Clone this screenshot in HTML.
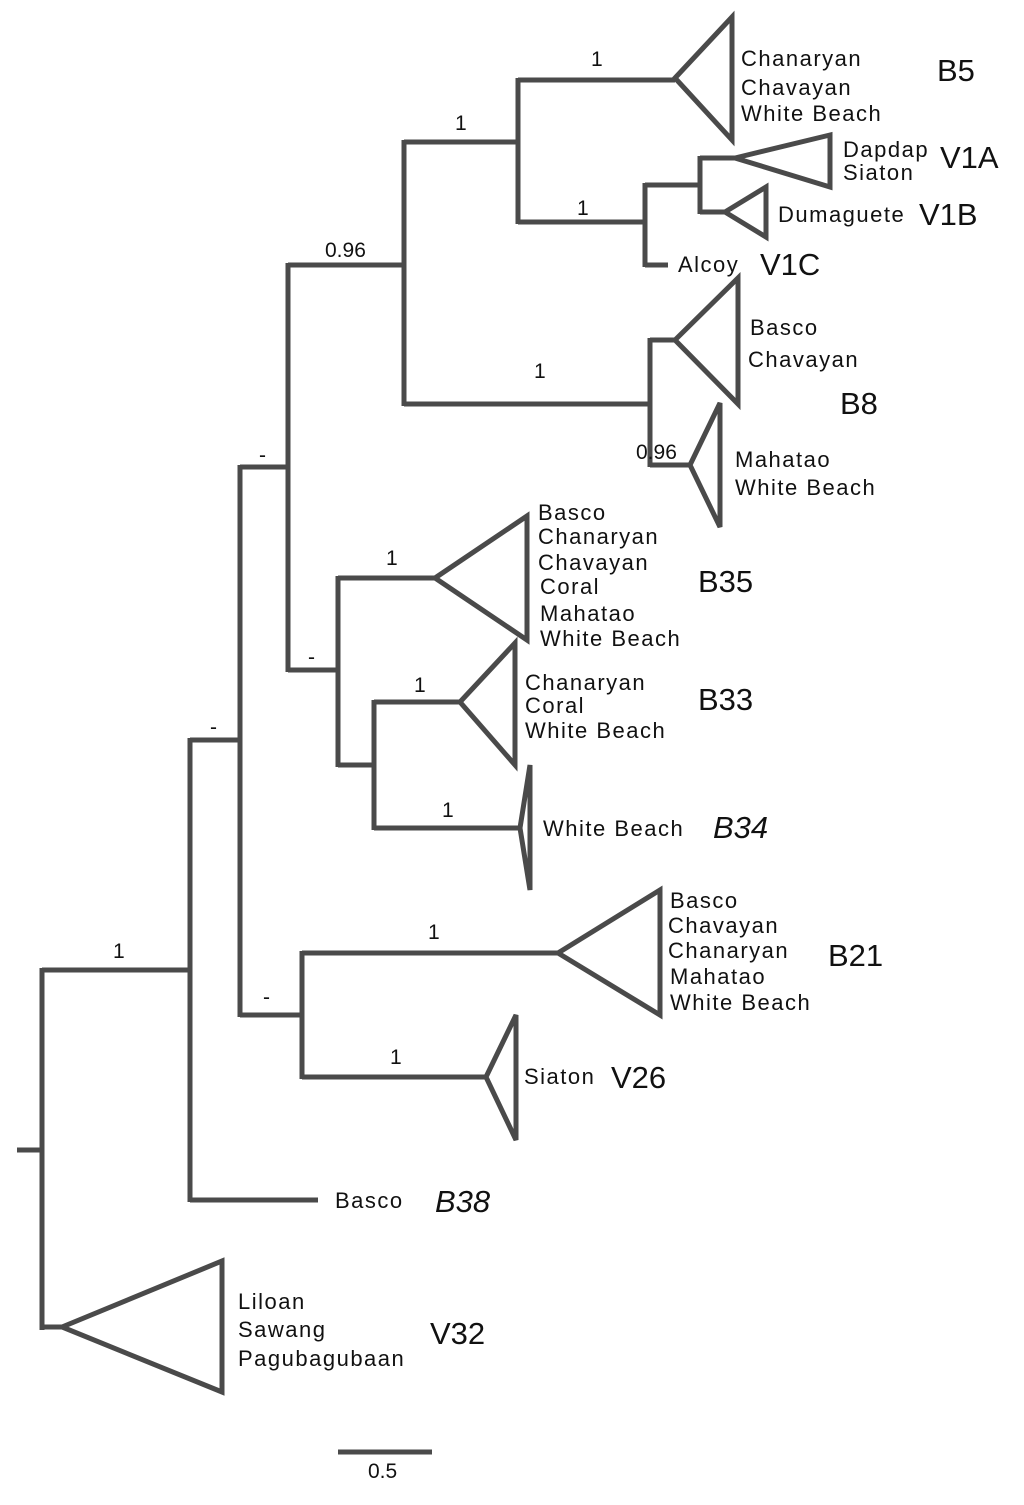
<!DOCTYPE html>
<html><head><style>body{margin:0;background:#fff}svg{display:block}text{font-family:"Liberation Sans",sans-serif;fill:#111}</style></head><body>
<svg width="1024" height="1505" viewBox="0 0 1024 1505">
<g stroke="#4a4a4a" stroke-width="5" fill="none" stroke-linejoin="miter">
<path d="M17 1150H42M42 968V1330M42 970H190M42 1327H62"/>
<polygon points="62,1327 222,1261 222,1392"/>
<path d="M190 738V1202M190 1200H318M190 740H240M240 465V1017M240 467H288M288 263V672M288 265H404M404 140V406M404 142H518M518 78V224M518 80H675"/>
<polygon points="675,78 732,17 732,140"/>
<path d="M518 222H645M645 183V267M645 185H700M700 156V214M700 158H735M700 212H725M645 265H668"/>
<polygon points="735,158 830,135 830,187"/>
<polygon points="725,212 766,187 766,237"/>
<path d="M404 404H650M650 338V467M650 340H675M650 465H690"/>
<polygon points="675,340 738,278 738,404"/>
<polygon points="690,465 720,403 720,527"/>
<path d="M288 670H338M338 576V767M338 578H435M338 765H374M374 700V830M374 702H460M374 828H520"/>
<polygon points="435,578 527,516 527,640"/>
<polygon points="460,702 515,643 515,765"/>
<polygon points="520,828 530,765 530,890"/>
<path d="M240 1015H302M302 951V1079M302 953H558M302 1077H486"/>
<polygon points="558,953 660,890 660,1015"/>
<polygon points="486,1077 516,1015 516,1140"/>
<path d="M338 1452H432"/>
</g>
<g font-size="21">
<text x="113" y="958">1</text>
<text x="210" y="734">-</text>
<text x="259" y="462">-</text>
<text x="325" y="257">0.96</text>
<text x="455" y="130">1</text>
<text x="591" y="66">1</text>
<text x="577" y="215">1</text>
<text x="534" y="378">1</text>
<text x="636" y="459">0.96</text>
<text x="308" y="664">-</text>
<text x="386" y="565">1</text>
<text x="414" y="692">1</text>
<text x="442" y="817">1</text>
<text x="263" y="1004">-</text>
<text x="428" y="939">1</text>
<text x="390" y="1064">1</text>
<text x="368" y="1478">0.5</text>
</g>
<g font-size="22" letter-spacing="1.5">
<text x="741" y="66">Chanaryan</text><text x="741" y="95">Chavayan</text><text x="741" y="121">White Beach</text>
<text x="843" y="157">Dapdap</text><text x="843" y="180">Siaton</text>
<text x="778" y="222">Dumaguete</text>
<text x="678" y="272">Alcoy</text>
<text x="750" y="335">Basco</text><text x="748" y="367">Chavayan</text>
<text x="735" y="467">Mahatao</text><text x="735" y="495">White Beach</text>
<text x="538" y="520">Basco</text><text x="538" y="544">Chanaryan</text><text x="538" y="570">Chavayan</text><text x="540" y="594">Coral</text><text x="540" y="621">Mahatao</text><text x="540" y="646">White Beach</text>
<text x="525" y="690">Chanaryan</text><text x="525" y="713">Coral</text><text x="525" y="738">White Beach</text>
<text x="543" y="836">White Beach</text>
<text x="670" y="908">Basco</text><text x="668" y="933">Chavayan</text><text x="668" y="958">Chanaryan</text><text x="670" y="984">Mahatao</text><text x="670" y="1010">White Beach</text>
<text x="524" y="1084">Siaton</text>
<text x="335" y="1208">Basco</text>
<text x="238" y="1309">Liloan</text><text x="238" y="1337">Sawang</text><text x="238" y="1366">Pagubagubaan</text>
</g>
<g font-size="31">
<text x="937" y="81">B5</text>
<text x="940" y="168">V1A</text>
<text x="919" y="225">V1B</text>
<text x="760" y="275">V1C</text>
<text x="840" y="414">B8</text>
<text x="698" y="592">B35</text>
<text x="698" y="710">B33</text>
<text x="713" y="838" font-style="italic">B34</text>
<text x="828" y="966">B21</text>
<text x="611" y="1088">V26</text>
<text x="435" y="1212" font-style="italic">B38</text>
<text x="430" y="1344">V32</text>
</g>
</svg>
</body></html>
